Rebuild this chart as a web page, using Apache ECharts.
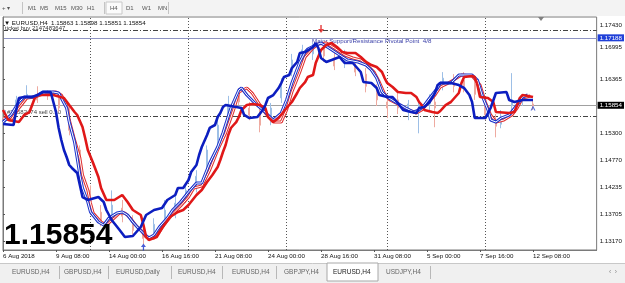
<!DOCTYPE html>
<html>
<head>
<meta charset="utf-8">
<script src="https://cdn.jsdelivr.net/npm/echarts@6/dist/echarts.min.js"></script>
<style>
html,body{margin:0;padding:0;background:#fff;}
#chart{width:625px;height:283px;}
</style>
</head>
<body>
<div id="chart"></div>
<script>
// x axis = H4 bar index, labels every 20 bars
var timeTicks = [0, 20, 40, 60, 80, 100, 120, 140, 160, 180, 200];
var timeLabels = ['6 Aug 2018', '9 Aug 08:00', '14 Aug 00:00', '16 Aug 16:00', '21 Aug 08:00', '24 Aug 00:00',
  '28 Aug 16:00', '31 Aug 08:00', '5 Sep 00:00', '7 Sep 16:00', '12 Sep 08:00'];
var priceTicks = [1.13170, 1.13705, 1.14235, 1.14770, 1.15300, 1.16365, 1.16995, 1.17430];
var weekSeparators = [33, 70, 107, 145, 182];

var lastPrice = 1.15854;
var pivotLevel = 1.17188;
var tpLevel = 1.17343;
var orderLevel = 1.15642;

// [bar, price]
var blueThick = [[0,1.15484],[4,1.15464],[5,1.15761],[6,1.15998],[8,1.16018],[11,1.16018],[13,1.16057],[15,1.16116],[18,1.16116],[19,1.15919],[20,1.15721],[21,1.15405],[22,1.15167],[23,1.14970],[24,1.14831],[25,1.14673],[26,1.14614],[28,1.14515],[29,1.14277],[30,1.14040],[32,1.13981],[36,1.14040],[38,1.13941],[39,1.13783],[41,1.13585],[44,1.13388],[46,1.13249],[49,1.13269],[52,1.13447],[54,1.13684],[57,1.13783],[60,1.13823],[62,1.13981],[65,1.14080],[66,1.14218],[68,1.14218],[70,1.14376],[71,1.14534],[73,1.14673],[74,1.14871],[75,1.15029],[77,1.15266],[78,1.15405],[80,1.15464],[81,1.15622],[82,1.15701],[83,1.15820],[84,1.15859],[88,1.15820],[90,1.15800],[91,1.15662],[93,1.15602],[96,1.15622],[98,1.15761],[99,1.15859],[100,1.15998],[102,1.16057],[104,1.16196],[105,1.16294],[106,1.16413],[108,1.16453],[109,1.16591],[111,1.16710],[112,1.16888],[114,1.16907],[117,1.17006],[118,1.17085],[119,1.16987],[120,1.16789],[122,1.16710],[124,1.16749],[126,1.16789],[127,1.16809],[128,1.16749],[129,1.16690],[132,1.16690],[135,1.16512],[136,1.16314],[139,1.16294],[141,1.16196],[142,1.16057],[145,1.16018],[147,1.16018],[149,1.15899],[151,1.15761],[154,1.15721],[156,1.15701],[157,1.15800],[159,1.15820],[161,1.15919],[163,1.16097],[164,1.16255],[165,1.16294],[169,1.16294],[172,1.16255],[174,1.16196],[176,1.16057],[177,1.15919],[178,1.15602],[182,1.15602],[184,1.15800],[186,1.16097],[190,1.16116],[191,1.15958],[193,1.15919],[196,1.15958],[200,1.15958]];

var redThick = [[0,1.15761],[2,1.15563],[6,1.15523],[8,1.15662],[10,1.15721],[12,1.15998],[13,1.16057],[19,1.16057],[23,1.15998],[25,1.15859],[27,1.15721],[28,1.15662],[30,1.15424],[31,1.15207],[32,1.14970],[34,1.14712],[36,1.14436],[37,1.14218],[39,1.13981],[42,1.13981],[45,1.14080],[47,1.13941],[49,1.13783],[52,1.13684],[53,1.13486],[54,1.13249],[55,1.13190],[58,1.13249],[60,1.13427],[63,1.13645],[66,1.13744],[68,1.13783],[70,1.13882],[73,1.14080],[75,1.14179],[77,1.14337],[79,1.14475],[81,1.14633],[82,1.14772],[83,1.14930],[84,1.15068],[85,1.15266],[86,1.15405],[87,1.15464],[88,1.15523],[89,1.15622],[90,1.15761],[92,1.15859],[94,1.15879],[97,1.15859],[99,1.15800],[100,1.15622],[102,1.15523],[104,1.15602],[107,1.15800],[109,1.15919],[111,1.16097],[112,1.16196],[114,1.16314],[115,1.16413],[117,1.16453],[118,1.16690],[120,1.16947],[122,1.17046],[124,1.17085],[126,1.17006],[128,1.16907],[130,1.16888],[133,1.16888],[135,1.16809],[137,1.16710],[139,1.16650],[141,1.16611],[143,1.16512],[144,1.16393],[145,1.16294],[147,1.16215],[149,1.16116],[152,1.16097],[154,1.16097],[156,1.16018],[157,1.15919],[158,1.15859],[159,1.15761],[162,1.15721],[164,1.15701],[165,1.15741],[167,1.15859],[169,1.15919],[172,1.16097],[173,1.16294],[174,1.16413],[177,1.16433],[178,1.16413],[179,1.16255],[180,1.16018],[183,1.15998],[185,1.15919],[186,1.15721],[191,1.15701],[193,1.15721],[195,1.15998],[196,1.16057],[200,1.16018]];

var blueThin = [[0,1.15523],[3,1.15662],[6,1.15919],[8,1.16018],[12,1.16018],[15,1.16116],[19,1.16116],[21,1.16097],[22,1.15998],[24,1.15800],[25,1.15523],[27,1.15128],[28,1.14811],[29,1.14475],[30,1.14218],[32,1.13941],[33,1.13744],[36,1.13546],[38,1.13486],[40,1.13625],[43,1.13724],[45,1.13744],[47,1.13684],[49,1.13546],[51,1.13427],[53,1.13328],[55,1.13229],[57,1.13289],[59,1.13447],[62,1.13625],[64,1.13783],[67,1.13941],[70,1.14139],[73,1.14317],[75,1.14317],[78,1.14712],[81,1.15029],[83,1.15306],[86,1.15800],[89,1.16156],[90,1.16196],[92,1.16057],[95,1.15899],[98,1.15761],[100,1.15662],[102,1.15563],[105,1.15701],[107,1.15958],[109,1.16294],[112,1.16710],[114,1.16907],[115,1.16967],[118,1.17046],[120,1.17085],[123,1.16987],[127,1.16848],[130,1.16749],[134,1.16710],[137,1.16650],[139,1.16552],[141,1.16393],[143,1.16116],[145,1.16018],[148,1.15919],[152,1.15800],[155,1.15721],[157,1.15761],[159,1.15859],[161,1.15998],[164,1.16196],[165,1.16294],[169,1.16294],[172,1.16453],[177,1.16453],[179,1.16354],[181,1.16018],[183,1.15761],[184,1.15563],[186,1.15523],[188,1.15602],[191,1.15662],[194,1.15859],[196,1.16018],[198,1.16057]];

var redThin = [[0,1.15602],[3,1.15563],[6,1.15800],[9,1.15998],[12,1.16018],[16,1.16097],[20,1.16116],[22,1.16057],[24,1.15859],[25,1.15563],[27,1.15167],[29,1.14811],[30,1.14475],[32,1.14179],[33,1.13921],[34,1.13724],[37,1.13546],[39,1.13486],[42,1.13625],[44,1.13724],[46,1.13724],[48,1.13625],[50,1.13486],[52,1.13388],[54,1.13249],[57,1.13229],[59,1.13348],[61,1.13506],[64,1.13704],[67,1.13862],[70,1.14040],[72,1.14218],[75,1.14258],[78,1.14574],[81,1.14970],[84,1.15306],[87,1.15761],[89,1.16116],[92,1.16196],[94,1.16097],[97,1.15859],[99,1.15701],[102,1.15523],[105,1.15523],[107,1.15761],[109,1.16116],[112,1.16512],[114,1.16809],[117,1.16987],[119,1.17066],[122,1.17085],[125,1.16987],[129,1.16848],[132,1.16789],[135,1.16749],[137,1.16670],[140,1.16512],[142,1.16314],[144,1.16077],[146,1.15958],[149,1.15879],[153,1.15761],[156,1.15701],[158,1.15761],[160,1.15879],[163,1.16057],[165,1.16215],[168,1.16294],[170,1.16354],[173,1.16453],[177,1.16433],[180,1.16255],[182,1.15919],[184,1.15662],[186,1.15523],[189,1.15563],[192,1.15662],[194,1.15800],[196,1.15998],[199,1.16037]];

// [bar, open, close, low, high]
var candles = [[1,1.1556,1.1568,1.1548,1.1576],[5,1.1576,1.1596,1.1572,1.1604],[9,1.1600,1.1607,1.1596,1.1625],[13,1.1605,1.1596,1.1590,1.1623],[17,1.1609,1.1604,1.1596,1.1615],[21,1.1600,1.1580,1.1572,1.1607],[25,1.1572,1.1536,1.1526,1.1584],[29,1.1497,1.1453,1.1441,1.1506],[33,1.1417,1.1382,1.1368,1.1427],[37,1.1374,1.1354,1.1346,1.1388],[41,1.1368,1.1388,1.1358,1.1417],[45,1.1382,1.1366,1.1354,1.1398],[49,1.1354,1.1338,1.1330,1.1368],[53,1.1334,1.1322,1.1311,1.1342],[57,1.1330,1.1350,1.1322,1.1362],[61,1.1362,1.1378,1.1354,1.1398],[65,1.1368,1.1392,1.1362,1.1406],[69,1.1402,1.1417,1.1392,1.1429],[73,1.1425,1.1445,1.1413,1.1457],[77,1.1457,1.1497,1.1445,1.1506],[81,1.1516,1.1546,1.1506,1.1566],[85,1.1560,1.1588,1.1552,1.1604],[89,1.1605,1.1592,1.1586,1.1619],[93,1.1580,1.1566,1.1556,1.1592],[97,1.1572,1.1546,1.1532,1.1580],[101,1.1556,1.1580,1.1546,1.1590],[105,1.1600,1.1627,1.1590,1.1639],[109,1.1651,1.1675,1.1643,1.1687],[113,1.1683,1.1695,1.1671,1.1705],[117,1.1687,1.1703,1.1675,1.1710],[121,1.1699,1.1683,1.1671,1.1710],[125,1.1679,1.1663,1.1655,1.1691],[129,1.1671,1.1683,1.1659,1.1695],[133,1.1667,1.1651,1.1643,1.1679],[137,1.1647,1.1623,1.1611,1.1659],[141,1.1611,1.1596,1.1584,1.1627],[145,1.1592,1.1580,1.1560,1.1604],[149,1.1596,1.1580,1.1568,1.1611],[153,1.1572,1.1588,1.1556,1.1596],[157,1.1576,1.1584,1.1530,1.1596],[161,1.1588,1.1600,1.1572,1.1607],[163,1.1592,1.1580,1.1542,1.1604],[166,1.1623,1.1639,1.1615,1.1651],[170,1.1631,1.1623,1.1611,1.1647],[174,1.1635,1.1623,1.1611,1.1651],[178,1.1627,1.1607,1.1596,1.1639],[182,1.1588,1.1566,1.1556,1.1600],[186,1.1556,1.1544,1.1522,1.1568],[188,1.1548,1.1564,1.1540,1.1576],[192,1.1584,1.1596,1.1572,1.1649],[196,1.1592,1.1600,1.1584,1.1607],[200,1.1588,1.1584,1.1576,1.1596]];

var downArrows = [[120, 1.17362]];
var upArrows = [[53, 1.13051]];
var priceArrow = [[200, 1.15800]];

var toolbarItems = ['M1', 'M5', 'M15', 'M30', 'H1', 'H4', 'D1', 'W1', 'MN'];
var toolbarX = [28, 40, 55, 71, 87, 110, 126, 142, 158];
var tabLabels = ['EURUSD,H4', 'GBPUSD,H4', 'EURUSD,Daily', 'EURUSD,H4', 'EURUSD,H4', 'GBPJPY,H4', 'EURUSD,H4', 'USDJPY,H4'];
var tabX = [12, 64, 116, 178, 232, 284, 333, 386];
var tabSeps = [59, 108, 171, 222, 276, 430];
var activeTab = 6;

var FONT = 'Liberation Sans';
var dom = document.getElementById('chart');
var chart = echarts.init(dom, null, {renderer: 'canvas'});

var graphic = [];
// toolbar
graphic.push({type: 'rect', shape: {x: 0, y: 0, width: 625, height: 16}, style: {fill: '#f3f3f3'}, z: -1});
graphic.push({type: 'rect', shape: {x: 106, y: 2, width: 16, height: 12}, style: {fill: '#fbfbfb', stroke: '#c8c8c8', lineWidth: 1}});
[22, 104, 168].forEach(function (x) {
  graphic.push({type: 'line', shape: {x1: x + 0.5, y1: 2, x2: x + 0.5, y2: 14}, style: {stroke: '#c4c4c4', lineWidth: 1}});
});
graphic.push({type: 'text', x: 2, y: 8, style: {text: '+ ▾', fill: '#555', fontSize: 6, fontFamily: FONT, verticalAlign: 'middle'}});
toolbarItems.forEach(function (t, i) {
  graphic.push({type: 'text', x: toolbarX[i], y: 8, style: {text: t, fill: '#555', fontSize: 6, fontFamily: FONT, verticalAlign: 'middle'}});
});
// bottom tabs
graphic.push({type: 'rect', shape: {x: 0, y: 263, width: 625, height: 20}, style: {fill: '#f0f0f0'}, z: -1});
graphic.push({type: 'line', shape: {x1: 0, y1: 263.5, x2: 625, y2: 263.5}, style: {stroke: '#c8c8c8', lineWidth: 1}});
graphic.push({type: 'rect', shape: {x: 327, y: 263, width: 51, height: 18}, style: {fill: '#ffffff', stroke: '#a8a8a8', lineWidth: 1}});
tabSeps.forEach(function (x) {
  graphic.push({type: 'line', shape: {x1: x + 0.5, y1: 266, x2: x + 0.5, y2: 279}, style: {stroke: '#b8b8b8', lineWidth: 1}});
});
tabLabels.forEach(function (t, i) {
  graphic.push({type: 'text', x: tabX[i], y: 272, style: {text: t, fill: i === activeTab ? '#222' : '#666', fontSize: 6.5, fontFamily: FONT, verticalAlign: 'middle'}});
});
graphic.push({type: 'text', x: 609, y: 272, style: {text: '‹  ›', fill: '#888', fontSize: 6.5, fontFamily: FONT, verticalAlign: 'middle'}});
// chart header texts
graphic.push({type: 'text', x: 4, y: 23, style: {text: '▼ EURUSD,H4  1.15863 1.15898 1.15851 1.15854', fill: '#111', fontSize: 6.2, fontFamily: FONT, verticalAlign: 'middle'}});
graphic.push({type: 'text', x: 5, y: 28, style: {text: 'ticket buy 2147483647', fill: '#333', fontSize: 6, fontFamily: FONT, verticalAlign: 'middle'}});
graphic.push({type: 'text', x: 312, y: 41, style: {text: 'Major Support/Resistance Pivotal Point  4/8', fill: '#3a3fa8', fontSize: 6.2, fontFamily: FONT, verticalAlign: 'middle'}});
graphic.push({type: 'text', x: 4, y: 236, style: {text: '1.15854', fill: '#000', fontSize: 30, fontWeight: 'bold', fontFamily: FONT, verticalAlign: 'middle'}, z: 10});
graphic.push({type: 'polygon', shape: {points: [[538, 17], [544, 17], [541, 21]]}, style: {fill: '#808080'}});

var levelLines = weekSeparators.map(function (b) {
  return {xAxis: b, lineStyle: {color: '#555', type: [1, 2], width: 1}, label: {show: false}};
}).concat([
  {yAxis: tpLevel, lineStyle: {color: '#444', type: [5, 2, 1, 2], width: 1}, label: {show: false}},
  {yAxis: orderLevel, lineStyle: {color: '#444', type: [5, 2, 1, 2], width: 1},
    label: {show: true, position: 'insideStartTop', distance: [4, 1], formatter: '#74582474 sell 0.30', color: '#444', fontSize: 6}},
  {yAxis: pivotLevel, lineStyle: {color: '#8e94c4', type: 'solid', width: 1},
    label: {show: true, position: 'end', distance: 1, formatter: pivotLevel.toFixed(5), color: '#fff', backgroundColor: '#2040d8', padding: [1, 2, 0, 2], fontSize: 6.2}},
  {yAxis: lastPrice, lineStyle: {color: '#a0a0a0', type: 'solid', width: 1},
    label: {show: true, position: 'end', distance: 1, formatter: lastPrice.toFixed(5), color: '#fff', backgroundColor: '#000', padding: [1, 2, 0, 2], fontSize: 6.2}}
]);

var option = {
  animation: false,
  backgroundColor: '#ffffff',
  textStyle: {fontFamily: FONT},
  grid: {left: 2, right: 25, top: 17, bottom: 33, show: true, borderColor: '#7a7a7a', borderWidth: 1, backgroundColor: '#ffffff'},
  xAxis: {
    type: 'value', min: 0, max: 224,
    axisLine: {show: true, lineStyle: {color: '#7a7a7a'}},
    splitLine: {show: false},
    axisTick: {show: true, length: 2, customValues: timeTicks, lineStyle: {color: '#555'}},
    axisLabel: {
      customValues: timeTicks, align: 'left', margin: 3, fontSize: 6.2, color: '#111',
      formatter: function (v) { return timeLabels[timeTicks.indexOf(v)] || ''; }
    }
  },
  yAxis: {
    type: 'value', position: 'right', min: 1.12992, max: 1.17600,
    axisLine: {show: true, lineStyle: {color: '#7a7a7a'}},
    splitLine: {show: false},
    axisTick: {show: true, length: 2, customValues: priceTicks, lineStyle: {color: '#555'}},
    axisLabel: {
      customValues: priceTicks, margin: 3, fontSize: 6.2, color: '#111',
      formatter: function (v) { return v.toFixed(5); }
    }
  },
  graphic: graphic,
  series: [
    {
      type: 'line', data: [], symbol: 'none', z: 0,
      markLine: {silent: true, symbol: ['none', 'none'], animation: false, precision: 5, z: 0, data: levelLines}
    },
    {
      type: 'candlestick', data: candles, encode: {x: 0, y: [1, 2, 3, 4]}, barWidth: 1.5, z: 1,
      itemStyle: {color: '#a9c9ec', color0: '#f2b8ae', borderColor: '#9dbfe6', borderColor0: '#eeaaa0', borderWidth: 1}
    },
    {type: 'line', data: redThin, symbol: 'none', z: 3, lineStyle: {color: '#e03030', width: 3}},
    {type: 'line', data: redThin, symbol: 'none', z: 4, lineStyle: {color: '#ffffff', width: 1}},
    {type: 'line', data: blueThin, symbol: 'none', z: 5, lineStyle: {color: '#1c34cc', width: 3}},
    {type: 'line', data: blueThin, symbol: 'none', z: 6, lineStyle: {color: '#ffffff', width: 1}},
    {type: 'line', data: redThick, symbol: 'none', z: 7, lineStyle: {color: '#e01818', width: 2.6}},
    {type: 'line', data: blueThick, symbol: 'none', z: 8, lineStyle: {color: '#0c1ec0', width: 2.6}},
    {type: 'scatter', data: downArrows, z: 9, symbol: 'path://M3,0 L5,0 L5,5 L8,5 L4,10 L0,5 L3,5 Z', symbolSize: [6, 8], itemStyle: {color: '#e01818'}},
    {type: 'scatter', data: upArrows, z: 9, symbol: 'path://M3,10 L5,10 L5,5 L8,5 L4,0 L0,5 L3,5 Z', symbolSize: [5, 7], itemStyle: {color: '#1c34cc'}},
    {type: 'scatter', data: priceArrow, z: 9, symbol: 'path://M0,8 L4,0 L8,8 L6,8 L4,4 L2,8 Z', symbolSize: [5, 5], itemStyle: {color: '#3050d0'}}
  ]
};
chart.setOption(option);
</script>
</body>
</html>
